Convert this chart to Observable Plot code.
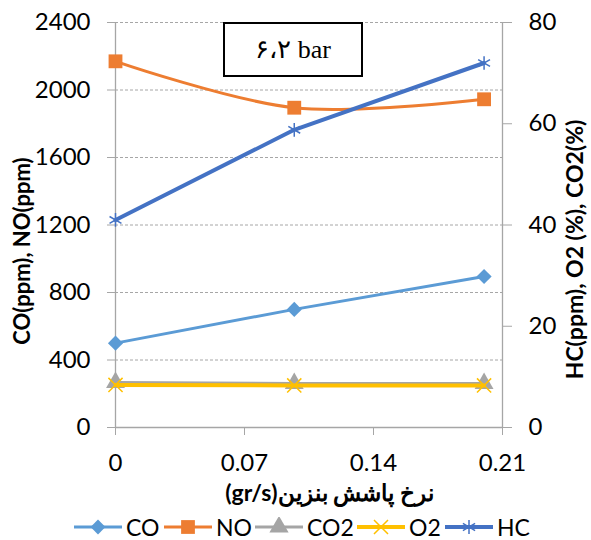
<!DOCTYPE html>
<html><head><meta charset="utf-8">
<script src="https://cdn.jsdelivr.net/npm/d3@7"></script>
<script src="https://cdn.jsdelivr.net/npm/@observablehq/plot@0.6"></script>
<style>
body{margin:0;background:#fff;width:591px;height:540px;overflow:hidden;position:relative;font-family:Lato,sans-serif;}
#chart{position:absolute;left:0;top:0;}
#title{position:absolute;left:223px;top:22px;width:136px;height:51px;border:2px solid #000;background:#fff;font-family:"Liberation Serif",serif;font-size:26px;display:flex;align-items:center;justify-content:center;}
#legend{position:absolute;left:0;top:514px;width:700px;height:26px;font-size:23px;line-height:26px;}
#legend .it{position:absolute;top:0;display:flex;align-items:center;white-space:nowrap;height:26px;}
#legend svg{margin-right:4px;}
</style></head><body>
<div id="chart"></div>
<div id="title"></div>
<div id="legend"></div>
<script>
// ---- data ----
const rates = [0, 0.097, 0.2];
const CO  = [500, 700, 895];
const NO  = [2170, 1895, 1945];
const CO2 = [8.9, 8.7, 8.7];
const O2  = [8.4, 8.3, 8.3];
const HC  = [41, 58.8, 72];
const leftTicks = [0, 400, 800, 1200, 1600, 2000, 2400];
const rightTicks = [0, 20, 40, 60, 80];
const xTicks = [0, 0.07, 0.14, 0.21];
const seriesNames = ["CO", "NO", "CO2", "O2", "HC"];
const titleText = "۶،۲ bar";
const leftLabel = "CO(ppm), NO(ppm)";
const rightLabel = "HC(ppm), O2 (%), CO2(%)";
const xLabel = "نرخ پاشش بنزین(gr/s)";

const k = 2400 / 80; // right axis to left axis
const colors = {CO:"#5B9BD5", NO:"#ED7D31", CO2:"#A5A5A5", O2:"#FFC000", HC:"#4472C4"};
const tbl = (arr, f = 1) => rates.map((x, i) => ({x, y: arr[i] * f}));
const dCO = tbl(CO), dNO = tbl(NO), dCO2 = tbl(CO2, k), dO2 = tbl(O2, k), dHC = tbl(HC, k);

const grey = "#a6a6a6";
const lab = {frameAnchor: "middle", textAnchor: "middle", lineAnchor: "middle", fontWeight: "bold", fill: "#000"};
const chart = Plot.plot({
  width: 591, height: 540,
  marginTop: 22, marginBottom: 113, marginLeft: 115, marginRight: 89,
  style: {fontFamily: "Lato, sans-serif", background: "#fff", overflow: "visible"},
  x: {domain: [0, 0.21]},
  y: {domain: [0, 2400]},
  marks: [
    Plot.gridY(leftTicks.slice(1), {stroke: grey, strokeOpacity: 1, strokeDasharray: "3,2"}),
    Plot.ruleY([0], {stroke: grey, strokeWidth: 1.3}),
    Plot.ruleX([0, 0.21], {stroke: grey, strokeWidth: 1.3}),
    Plot.axisY({ticks: leftTicks, tickFormat: d => String(d), tickSize: 8, tickPadding: 17, fontSize: 24, stroke: grey, fill: "#000", label: null}),
    Plot.axisY({anchor: "right", ticks: rightTicks.map(v => v * k), tickFormat: d => String(d / k), tickSize: 9, tickPadding: 17, fontSize: 24, stroke: grey, fill: "#000", textAnchor: "start", label: null}),
    Plot.axisX({ticks: xTicks, tickFormat: d => d === 0 ? "0" : d.toFixed(2), tickSize: 8, tickPadding: 18, fontSize: 24, stroke: grey, fill: "#000", label: null}),
    Plot.text([leftLabel], {...lab, rotate: -90, dx: -286.5, dy: 26, fontSize: 22, fontWeight: "bold"}),
    Plot.text([rightLabel], {...lab, rotate: -90, dx: 266.5, dy: 24.5, fontSize: 23}),
    Plot.text([xLabel], {...lab, dx: 20.5, dy: 268.5, fontSize: 23}),
    // series
    Plot.line(dCO, {x: "x", y: "y", stroke: colors.CO, strokeWidth: 3}),
    Plot.dot(dCO, {x: "x", y: "y", symbol: "diamond2", r: 6.8, fill: colors.CO, stroke: "none"}),
    Plot.line(dNO, {x: "x", y: "y", stroke: colors.NO, strokeWidth: 3, curve: "catmull-rom"}),
    Plot.dot(dNO, {x: "x", y: "y", symbol: "square", r: 7.8, fill: colors.NO, stroke: "none"}),
    Plot.line(dCO2, {x: "x", y: "y", stroke: colors.CO2, strokeWidth: 3}),
    Plot.dot(dCO2, {x: "x", y: "y", symbol: "triangle", r: 7, fill: colors.CO2, stroke: "none"}),
    Plot.line(dO2, {x: "x", y: "y", stroke: colors.O2, strokeWidth: 4}),
    Plot.dot(dO2, {x: "x", y: "y", symbol: "times", r: 6.5, stroke: colors.O2, strokeWidth: 1.5, fill: "none"}),
    Plot.line(dHC, {x: "x", y: "y", stroke: colors.HC, strokeWidth: 4}),
    Plot.dot(dHC, {x: "x", y: "y", symbol: "asterisk", r: 6.5, stroke: colors.HC, strokeWidth: 1.5, fill: "none"})
  ]
});
d3.select(chart).selectAll("text").filter(function () { return this.textContent === xLabel; })
  .attr("direction", "rtl").style("direction", "rtl").style("unicode-bidi", "embed");
document.getElementById("chart").appendChild(chart);
document.getElementById("title").textContent = titleText;

// legend
const syms = {CO: [d3.symbolDiamond2, 140, true], NO: [d3.symbolSquare, 190, true], CO2: [d3.symbolTriangle, 160, true], O2: [d3.symbolTimes, 130, false], HC: [d3.symbolAsterisk, 140, false]};
const legendLeft = [74, 164, 255, 357, 445];
const lg = d3.select("#legend");
seriesNames.forEach((n, i) => {
  const it = lg.append("div").attr("class", "it").style("left", legendLeft[i] + "px");
  const s = it.append("svg").attr("width", 48).attr("height", 20);
  s.append("line").attr("x1", 0).attr("x2", 48).attr("y1", 10).attr("y2", 10)
    .attr("stroke", colors[n]).attr("stroke-width", n === "O2" || n === "HC" ? 4 : 3);
  const [t, sz, filled] = syms[n];
  s.append("path").attr("d", d3.symbol(t, sz)()).attr("transform", "translate(24,10)")
    .attr("fill", filled ? colors[n] : "none").attr("stroke", filled ? "none" : colors[n]).attr("stroke-width", 1.5);
  it.append("span").text(n);
});
</script>
</body></html>
